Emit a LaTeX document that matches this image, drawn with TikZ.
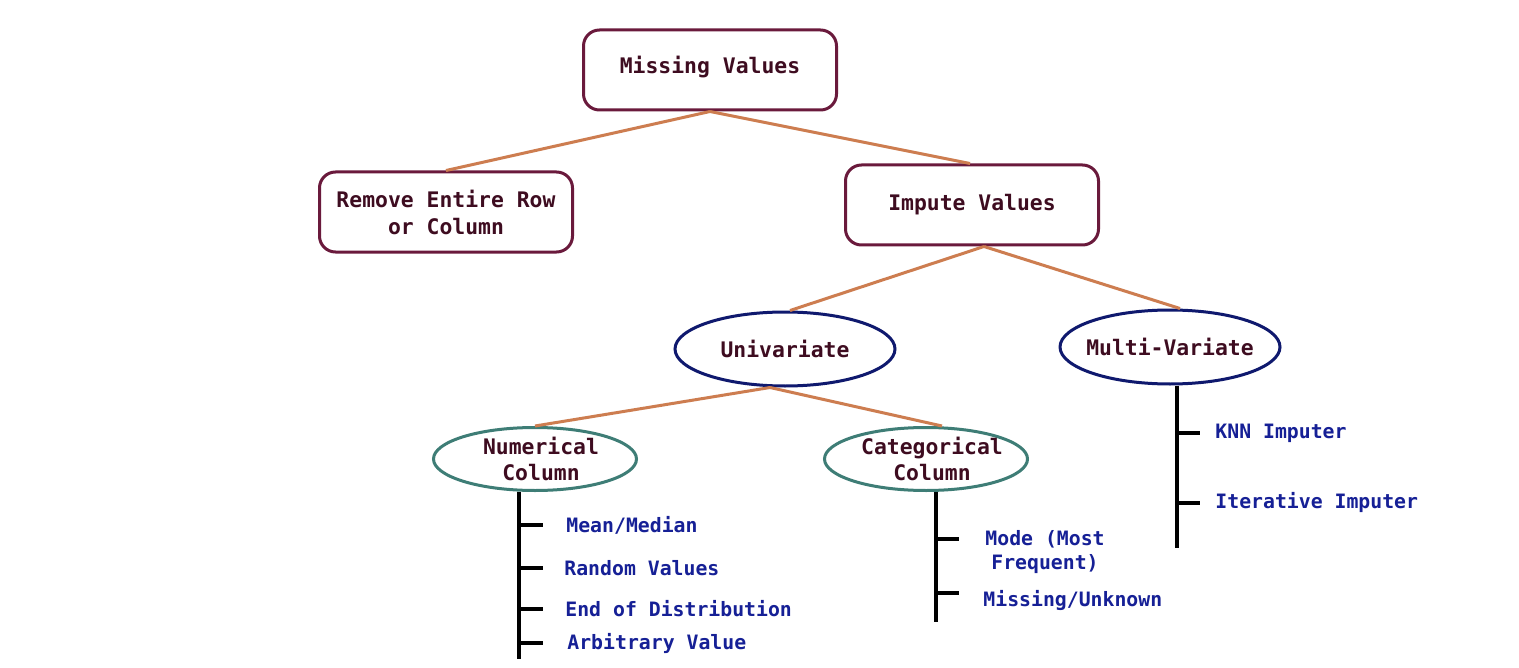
\documentclass[tikz,border=0pt]{standalone}
\usepackage{fontspec}
\setmonofont{DejaVu Sans Mono}
\usetikzlibrary{shapes.geometric}
\definecolor{boxline}{RGB}{106,26,60}
\definecolor{nodetext}{RGB}{62,12,32}
\definecolor{conn}{RGB}{205,125,80}
\definecolor{navyline}{RGB}{15,25,110}
\definecolor{tealline}{RGB}{62,125,118}
\definecolor{leaftext}{RGB}{22,32,150}
\tikzset{
  box/.style={draw=boxline, line width=1.5pt, rounded corners=8pt, minimum width=126.5pt, minimum height=40pt,
    align=center, text=nodetext, font=\ttfamily\bfseries\fontsize{10.7}{13.5}\selectfont, inner sep=0pt},
  ovalnavy/.style={ellipse, draw=navyline, line width=1.5pt, minimum width=110pt, minimum height=37pt,
    inner sep=-8pt, text=nodetext, font=\ttfamily\bfseries\fontsize{10.7}{13.5}\selectfont},
  ovalteal/.style={ellipse, draw=tealline, line width=1.5pt, minimum width=101.5pt, minimum height=31.5pt,
    inner sep=-4pt, align=center, text=nodetext, font=\ttfamily\bfseries\fontsize{10.7}{13}\selectfont},
  leaf/.style={anchor=west, inner sep=0pt, align=center, text=leaftext, font=\ttfamily\bfseries\fontsize{9.9}{12}\selectfont},
  link/.style={draw=conn, line width=1.5pt},
  trunk/.style={draw=black, line width=1.7pt}
}
\begin{document}
\begin{tikzpicture}[x=0.5pt,y=-0.5pt]
\useasboundingbox (0,0) rectangle (1519,668);
\fill[white] (0,0) rectangle (1519,668);
% boxes
\node[box] (mv) at (710,70) {\raisebox{5pt}{Missing Values}};
\node[box] (rm) at (446,212) {Remove Entire Row\\or Column};
\node[box] (iv) at (972,205) {\raisebox{2pt}{Impute Values}};
% ellipses
\node[ovalnavy] (uni) at (785,349) {Univariate};
\node[ovalnavy] (mul) at (1170,347) {Multi-Variate};
\node[ovalteal] (num) at (535,459) {\hspace*{6pt}Numerical\\\hspace*{6pt}Column};
\node[ovalteal] (cat) at (926,459) {\hspace*{6pt}Categorical\\\hspace*{6pt}Column};
% connectors
\draw[link] (mv.south) -- (rm.north);
\draw[link] (mv.south) -- ([xshift=-1pt]iv.north);
\draw[link] ([xshift=6pt]iv.south) -- ([xshift=2.5pt]uni.north);
\draw[link] ([xshift=6pt]iv.south) -- ([xshift=5pt]mul.north);
\draw[link] ([xshift=-7.5pt]uni.south) -- (num.north);
\draw[link] ([xshift=-7.5pt]uni.south) -- ([xshift=8pt]cat.north);
% leaves
\node[leaf] (n1) at (566,525) {Mean/Median};
\node[leaf] (n2) at (564,568) {Random Values};
\node[leaf] (n3) at (565,609) {End of Distribution};
\node[leaf] (n4) at (567,643) {Arbitrary Value};
\node[leaf] (c1) at (985,552) {Mode (Most\\Frequent)};
\node[leaf] (c2) at (983,600) {Missing/Unknown};
\node[leaf] (k1) at (1215,433) {KNN Imputer};
\node[leaf] (k2) at (1215,503) {Iterative Imputer};
% trunks
\coordinate (numtop) at ([xshift=-8pt]num.south);
\coordinate (numend) at (519,659);
\coordinate (cattop) at ([xshift=5pt]cat.south);
\coordinate (catend) at (936,622);
\coordinate (multop) at ([xshift=3.5pt]mul.south);
\coordinate (mulend) at (1177,548);
\draw[trunk] (numtop) -- (numtop |- numend);
\draw[trunk] (cattop) -- (cattop |- catend);
\draw[trunk] (multop) -- (multop |- mulend);
% ticks
\draw[trunk] (numtop |- n1.west) -- ([xshift=-11.5pt]n1.west);
\draw[trunk] (numtop |- n2.west) -- ([xshift=-10.5pt]n2.west);
\draw[trunk] (numtop |- n3.west) -- ([xshift=-11pt]n3.west);
\draw[trunk] (numtop |- n4.west) -- ([xshift=-12pt]n4.west);
\draw[trunk] ([yshift=6.5pt]cattop |- c1.west) -- ([xshift=-13pt,yshift=6.5pt]c1.west);
\draw[trunk] ([yshift=3.5pt]cattop |- c2.west) -- ([xshift=-12pt,yshift=3.5pt]c2.west);
\draw[trunk] (multop |- k1.west) -- ([xshift=-7.5pt]k1.west);
\draw[trunk] (multop |- k2.west) -- ([xshift=-7.5pt]k2.west);
\end{tikzpicture}
\end{document}
